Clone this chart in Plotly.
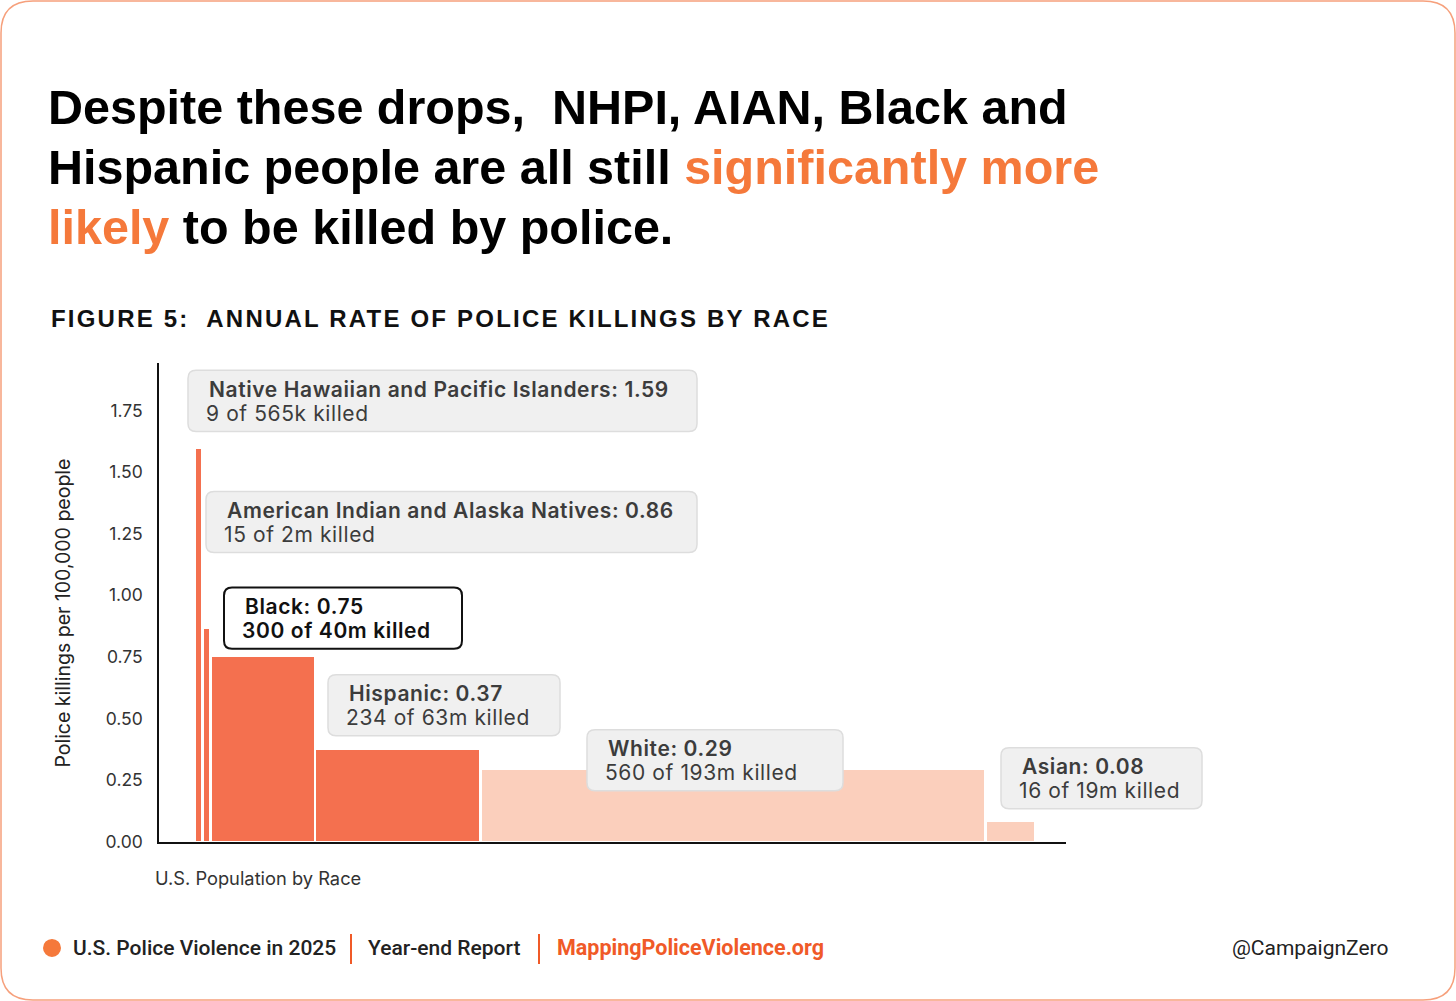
import plotly.graph_objects as go

# ---------------- data ----------------
groups = ["Native Hawaiian and Pacific Islanders", "American Indian and Alaska Natives",
          "Black", "Hispanic", "White", "Asian"]
rates = [1.59, 0.86, 0.75, 0.37, 0.29, 0.08]
killed = [9, 15, 300, 234, 560, 16]
population_m = [0.565, 2, 40, 63, 193, 19]
population_labels = ["565k", "2m", "40m", "63m", "193m", "19m"]
y_ticks = [0, 0.25, 0.5, 0.75, 1.0, 1.25, 1.5, 1.75]

# ---------------- style ----------------
W, H = 1456, 1012          # figure size
REF_H = 1001               # layout positions are expressed in this reference frame
DARK = "#F4704F"
LIGHT = "#FBCFBC"
ORANGE = "#F5793B"
FOOT_ORANGE = "#F05A28"
bar_colors = [DARK, DARK, DARK, DARK, LIGHT, LIGHT]
MIN_W = 3.0      # minimum display width (millions) so tiny groups stay visible
GAP = 1.1        # white gap between bars (millions)

def px(x):
    return x / W

def py(y):
    return 1 - y / REF_H

# variable-width bar layout
disp = [max(p, MIN_W) for p in population_m]
starts = []
acc = 0.0
for d in disp:
    starts.append(acc)
    acc += d
centers = [s + d / 2 for s, d in zip(starts, disp)]
widths = [d - GAP for d in disp]

fig = go.Figure()
fig.add_trace(go.Bar(
    x=centers, y=rates, width=widths,
    marker=dict(color=bar_colors, line=dict(width=0)),
    hoverinfo="skip", showlegend=False,
))

# axis geometry (reference pixels)
AX_L, AX_R = 159, 1066
AX_B, AX_T = 841, 363
PX_PER_Y = 246.3
PX_PER_M = 2.62
x_start_px = 194.5
xmin = -(x_start_px - AX_L) / PX_PER_M
xmax = xmin + (AX_R - AX_L) / PX_PER_M
ymax = (AX_B - AX_T) / PX_PER_Y

fig.update_layout(
    width=W, height=H,
    margin=dict(l=0, r=0, t=0, b=0),
    paper_bgcolor="white", plot_bgcolor="white",
    xaxis=dict(domain=[px(AX_L), px(AX_R)], range=[xmin, xmax],
               showline=True, linecolor="#111", linewidth=2,
               showticklabels=False, ticks="", showgrid=False, zeroline=False),
    yaxis=dict(domain=[py(AX_B), py(AX_T)], range=[0, ymax],
               showline=True, linecolor="#111", linewidth=1.5,
               tickvals=y_ticks, tickformat=".2f", ticks="",
               ticklabelstandoff=11,
               tickfont=dict(family="Inter", size=17.5, color="#333"),
               showgrid=False, zeroline=False),
    bargap=0,
)

shapes = []
annotations = []

def rounded_rect(x0, y0, x1, y1, r):
    # reference pixel coords -> paper path
    rx = r
    ry = r
    pts = (f"M {px(x0 + rx)},{py(y0)} L {px(x1 - rx)},{py(y0)} "
           f"Q {px(x1)},{py(y0)} {px(x1)},{py(y0 + ry)} "
           f"L {px(x1)},{py(y1 - ry)} Q {px(x1)},{py(y1)} {px(x1 - rx)},{py(y1)} "
           f"L {px(x0 + rx)},{py(y1)} Q {px(x0)},{py(y1)} {px(x0)},{py(y1 - ry)} "
           f"L {px(x0)},{py(y0 + ry)} Q {px(x0)},{py(y0)} {px(x0 + rx)},{py(y0)} Z")
    return pts

# card border
shapes.append(dict(type="path", xref="paper", yref="paper",
                   path=rounded_rect(1, 1, 1455, 999, 32),
                   line=dict(color="#F6A07C", width=1.5), fillcolor="rgba(0,0,0,0)",
                   layer="below"))

# title
TITLE_FONT = dict(family="Liberation Sans", size=48.5, color="#000", weight=700)
title_lines = [
    ("Despite these drops,&nbsp;&nbsp;NHPI, AIAN, Black and", 107),
    (f"Hispanic people are all still <span style='color:{ORANGE}'>significantly more</span>", 167),
    (f"<span style='color:{ORANGE}'>likely</span> to be killed by police.", 227),
]
for txt, yc in title_lines:
    annotations.append(dict(text=txt, x=px(46), y=py(yc), xref="paper", yref="paper",
                            xanchor="left", yanchor="middle", showarrow=False,
                            font=TITLE_FONT))

# figure subtitle
annotations.append(dict(
    text="<span style='letter-spacing:2.2px'>FIGURE 5:&nbsp; ANNUAL RATE OF POLICE KILLINGS BY RACE</span>",
    x=px(49), y=py(318), xref="paper", yref="paper", xanchor="left", yanchor="middle",
    showarrow=False, font=dict(family="Liberation Sans", size=24, color="#111", weight=700)))

# axis titles
annotations.append(dict(text="Police killings per 100,000 people", textangle=-90,
                        x=px(63), y=py(613), xref="paper", yref="paper",
                        xanchor="center", yanchor="middle", showarrow=False,
                        font=dict(family="Inter", size=19.5, color="#222")))
annotations.append(dict(text="U.S. Population by Race",
                        x=px(153), y=py(877), xref="paper", yref="paper",
                        xanchor="left", yanchor="middle", showarrow=False,
                        font=dict(family="Inter", size=18.3, color="#333")))

# label boxes (reference pixel positions: left, top, right, bottom)
boxes = [
    (188, 370, 697, 431),
    (206, 491, 697, 552),
    (224, 587, 462, 648),
    (328, 674, 560, 735),
    (587, 729, 843, 790),
    (1001, 747, 1202, 808),
]
highlight = [False, False, True, False, False, False]
LS = "<span style='letter-spacing:0.6px'>{}</span>"
for g, r, k, pl, (x0, y0, x1, y1), hl in zip(groups, rates, killed, population_labels, boxes, highlight):
    shapes.append(dict(type="path", xref="paper", yref="paper",
                       path=rounded_rect(x0, y0, x1, y1, 8),
                       line=dict(color="#111" if hl else "#DDDDDD", width=2 if hl else 1.5),
                       fillcolor="white" if hl else "#F0F0F0", layer="above"))
    col = "#111" if hl else "#3C3C3C"
    annotations.append(dict(text=LS.format(f"{g}: {r:.2f}"), x=px(x0 + 19), y=py(y0 + 19),
                            xref="paper", yref="paper", xanchor="left", yanchor="middle",
                            showarrow=False,
                            font=dict(family="Inter", size=21, color=col, weight=600)))
    annotations.append(dict(text=LS.format(f"{k} of {pl} killed"), x=px(x0 + 16), y=py(y0 + 43),
                            xref="paper", yref="paper", xanchor="left", yanchor="middle",
                            showarrow=False,
                            font=dict(family="Inter", size=21, color=col,
                                      weight=600 if hl else 400)))

# footer
shapes.append(dict(type="circle", xref="paper", yref="paper",
                   x0=px(43), x1=px(61), y0=py(956), y1=py(938),
                   fillcolor=ORANGE, line=dict(width=0)))
for xv in (351, 539):
    shapes.append(dict(type="line", xref="paper", yref="paper",
                       x0=px(xv), x1=px(xv), y0=py(933), y1=py(963),
                       line=dict(color=FOOT_ORANGE, width=2)))
FOOT = dict(family="Roboto", size=21, color="#222", weight=500)
annotations.append(dict(text="U.S. Police Violence in 2025", x=px(71), y=py(947),
                        xref="paper", yref="paper", xanchor="left", yanchor="middle",
                        showarrow=False, font=FOOT))
annotations.append(dict(text="Year-end Report", x=px(366), y=py(947),
                        xref="paper", yref="paper", xanchor="left", yanchor="middle",
                        showarrow=False, font=FOOT))
annotations.append(dict(text="MappingPoliceViolence.org", x=px(555), y=py(947),
                        xref="paper", yref="paper", xanchor="left", yanchor="middle",
                        showarrow=False,
                        font=dict(family="Roboto", size=21.5, color=FOOT_ORANGE, weight=700)))
annotations.append(dict(text="@CampaignZero", x=px(1390), y=py(947),
                        xref="paper", yref="paper", xanchor="right", yanchor="middle",
                        showarrow=False, font=dict(family="Roboto", size=21, color="#222", weight=400)))

fig.update_layout(shapes=shapes, annotations=annotations)
fig.write_html(
    "out.html",
    config={"displayModeBar": False, "responsive": False},
    post_script="document.body.style.margin='0';document.body.style.overflow='hidden';",
)
